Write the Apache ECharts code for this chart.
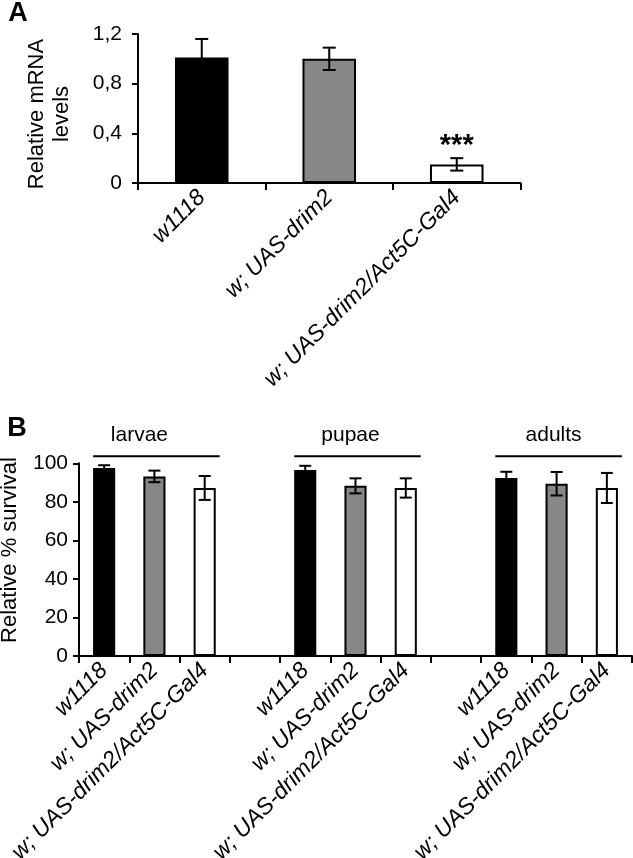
<!DOCTYPE html>
<html><head><meta charset="utf-8">
<script src="https://cdn.jsdelivr.net/npm/echarts@6/dist/echarts.min.js"></script>
<style>html,body{margin:0;padding:0;background:#fff}#c{width:633px;height:858px}</style>
</head><body><div id="c"></div>
<script>
// ---- data ----
const genotypes = ['w1118', 'w; UAS-drim2', 'w; UAS-drim2/Act5C-Gal4'];
const mrnaMean = [1.01, 1.0, 0.15];
const mrnaErr = [0.15, 0.09, 0.05];
const mrnaSig = ['', '', '***'];
const stages = ['larvae', 'pupae', 'adults'];
const larvaeMean = [97.6, 93.2, 87.2];
const larvaeErr = [1.4, 3.0, 6.2];
const pupaeMean = [96.5, 88.3, 87.2];
const pupaeErr = [2.2, 3.9, 5.0];
const adultsMean = [92.4, 89.4, 87.2];
const adultsErr = [3.2, 6.1, 7.8];
const ticksA = [0, 0.4, 0.8, 1.2];
const ticksB = [0, 20, 40, 60, 80, 100];

// ---- styling ----
const FONT = "'Liberation Sans', Arial, sans-serif";
const fills = ['#000000', '#878787', '#ffffff'];
const titleShift = [-15, -5, -3];

// ---- build ----
const catsB = [], barB = [], errB = [], groupsB = [];
const means = [larvaeMean, pupaeMean, adultsMean];
const errs = [larvaeErr, pupaeErr, adultsErr];
stages.forEach((s, si) => {
  const first = catsB.length;
  genotypes.forEach((g, gi) => {
    const idx = catsB.length;
    catsB.push(g);
    barB.push({value: means[si][gi], itemStyle: {color: fills[gi]}});
    errB.push([idx, means[si][gi], errs[si][gi]]);
  });
  groupsB.push([first, catsB.length - 1, s, si]);
  if (si < stages.length - 1) { catsB.push(''); barB.push('-'); }
});

function errRender(params, api) {
  const x = api.value(0), m = api.value(1), e = api.value(2);
  const hi = api.coord([x, m + e]), lo = api.coord([x, m - e]);
  const cw = params.seriesIndex === 1 ? 6.5 : 6;
  const st = {stroke: '#000', lineWidth: 2};
  const ch = [
    {type: 'line', shape: {x1: hi[0], y1: hi[1], x2: lo[0], y2: lo[1]}, style: st},
    {type: 'line', shape: {x1: hi[0] - cw, y1: hi[1], x2: hi[0] + cw, y2: hi[1]}, style: st},
    {type: 'line', shape: {x1: lo[0] - cw, y1: lo[1], x2: lo[0] + cw, y2: lo[1]}, style: st}
  ];
  if (params.seriesIndex === 1 && mrnaSig[params.dataIndex]) {
    ch.push({type: 'text', x: hi[0], y: hi[1] - 12,
      style: {text: mrnaSig[params.dataIndex], font: 'bold 29px ' + FONT, fill: '#000',
              align: 'center', verticalAlign: 'middle'}});
  }
  return {type: 'group', children: ch};
}

function groupRender(params, api) {
  const a = api.coord([api.value(0), 100]);
  const b = api.coord([api.value(1), 100]);
  const mid = api.coord([(api.value(0) + api.value(1)) / 2, 100]);
  const y = a[1] - 7;
  const si = groupsB[params.dataIndex][3];
  return {type: 'group', children: [
    {type: 'line', shape: {x1: a[0] - 11, y1: y, x2: b[0] + 15, y2: y}, style: {stroke: '#000', lineWidth: 2}},
    {type: 'text', x: mid[0] + titleShift[si], y: y - 21,
      style: {text: groupsB[params.dataIndex][2], font: '21px ' + FONT, fill: '#000', align: 'center', verticalAlign: 'middle'}}
  ]};
}

const axisLineStyle = {show: true, lineStyle: {color: '#000', width: 2}};
const catLabel = {interval: 0, rotate: 45, fontStyle: 'italic', fontSize: 23, fontFamily: FONT, color: '#000', margin: 11};
const valLabelStyle = {fontSize: 21, fontFamily: FONT, color: '#000'};

const chart = echarts.init(document.getElementById('c'), null, {renderer: 'canvas'});
chart.setOption({
  animation: false,
  backgroundColor: '#fff',
  grid: [
    {left: 138, top: 34, width: 382.5, height: 149, containLabel: false, outerBoundsMode: 'none'},
    {left: 79, top: 463.3, width: 553, height: 192.7, containLabel: false, outerBoundsMode: 'none'}
  ],
  xAxis: [
    {gridIndex: 0, type: 'category', data: genotypes, axisLine: axisLineStyle,
     axisTick: {show: true, length: 7, lineStyle: {width: 2, color: '#000'}}, axisLabel: catLabel},
    {gridIndex: 1, type: 'category', data: catsB, axisLine: axisLineStyle,
     axisTick: {show: true, interval: 0, length: 7, lineStyle: {width: 2, color: '#000'}}, axisLabel: catLabel}
  ],
  yAxis: [
    {gridIndex: 0, type: 'value', min: ticksA[0], max: ticksA[ticksA.length - 1], interval: ticksA[1] - ticksA[0],
     axisLine: axisLineStyle, axisTick: {show: true, length: 6, lineStyle: {width: 2, color: '#000'}},
     splitLine: {show: false},
     axisLabel: Object.assign({margin: 16, formatter: v => (Math.round(v * 10) / 10).toString().replace('.', ',')}, valLabelStyle)},
    {gridIndex: 1, type: 'value', min: ticksB[0], max: ticksB[ticksB.length - 1], interval: ticksB[1] - ticksB[0],
     axisLine: axisLineStyle, axisTick: {show: true, length: 6, lineStyle: {width: 2, color: '#000'}},
     splitLine: {show: false},
     axisLabel: Object.assign({margin: 11}, valLabelStyle)}
  ],
  series: [
    {type: 'bar', xAxisIndex: 0, yAxisIndex: 0, barWidth: '42%',
     data: mrnaMean.map((v, i) => ({value: v, itemStyle: {color: fills[i]}})),
     itemStyle: {borderColor: '#000', borderWidth: 2}},
    {type: 'custom', xAxisIndex: 0, yAxisIndex: 0, renderItem: errRender, clip: false,
     data: mrnaMean.map((v, i) => [i, v, mrnaErr[i]]), z: 5},
    {type: 'bar', xAxisIndex: 1, yAxisIndex: 1, barWidth: '44%', data: barB,
     itemStyle: {borderColor: '#000', borderWidth: 2}},
    {type: 'custom', xAxisIndex: 1, yAxisIndex: 1, renderItem: errRender, clip: false, data: errB, z: 5},
    {type: 'custom', xAxisIndex: 1, yAxisIndex: 1, renderItem: groupRender, clip: false,
     data: groupsB.map(g => [g[0], g[1]]), z: 5}
  ],
  graphic: [
    {type: 'text', x: 18, y: 14, style: {text: 'A', font: 'bold 27px ' + FONT, fill: '#000', align: 'center', verticalAlign: 'middle'}},
    {type: 'text', x: 17, y: 429, style: {text: 'B', font: 'bold 27px ' + FONT, fill: '#000', align: 'center', verticalAlign: 'middle'}},
    {type: 'text', x: 49, y: 114, rotation: Math.PI / 2,
     style: {text: 'Relative mRNA\nlevels', font: '22px ' + FONT, lineHeight: 25, fill: '#000', align: 'center', verticalAlign: 'middle'}},
    {type: 'text', x: 10, y: 550, rotation: Math.PI / 2,
     style: {text: 'Relative % survival', font: '22px ' + FONT, fill: '#000', align: 'center', verticalAlign: 'middle'}}
  ]
});
</script>
</body></html>
